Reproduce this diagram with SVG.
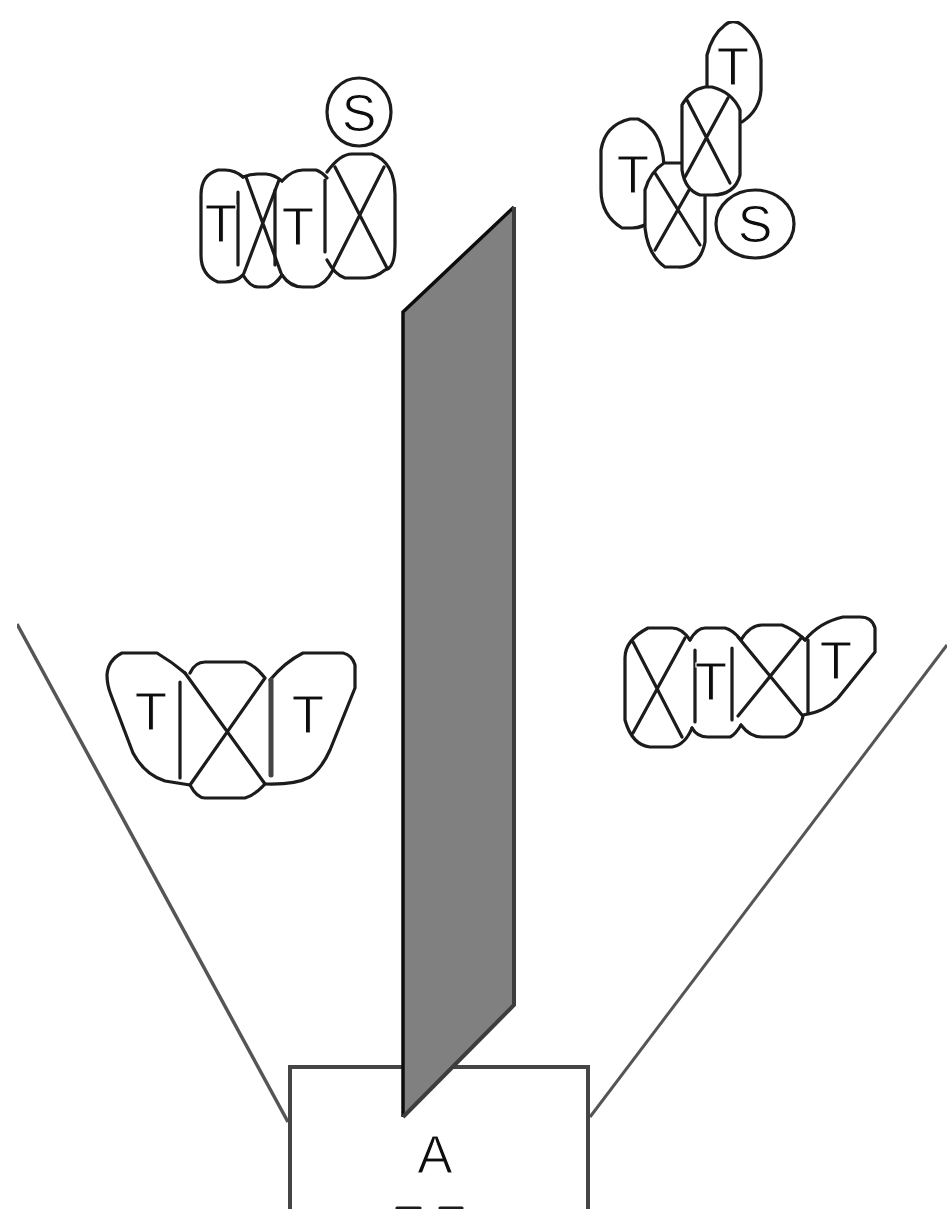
<svg xmlns="http://www.w3.org/2000/svg" width="947" height="1209" viewBox="0 0 947 1209">
<style>
.o{fill:none;stroke:#1a1a1a;stroke-width:3.2;stroke-linejoin:round;stroke-linecap:round}
.w{fill:#fff;stroke:#1a1a1a;stroke-width:3.2;stroke-linejoin:round;stroke-linecap:round}
.g{fill:none;stroke:#444;stroke-width:4}
.t{font-family:"Liberation Sans",Arial,sans-serif;fill:#111;stroke:#fff;stroke-width:1;text-anchor:middle}
</style>
<defs><filter id="soft" x="0" y="0" width="100%" height="100%"><feGaussianBlur stdDeviation="0.6"/></filter></defs>
<rect width="947" height="1209" fill="#fff"/>
<g filter="url(#soft)">
<g id="connectors">
<path class="g" style="stroke-width:3.5;stroke:#555" d="M17 624L288 1122"/>
<path class="g" style="stroke-width:3;stroke:#555" d="M947 645L590 1117"/>
</g>
<g id="node-a">
<path class="g" d="M290 1209V1067H588V1209"/>
<text class="t" x="435" y="1173" font-size="53">A</text>
<path class="o" d="M397 1208H420M440 1208H462"/>
</g>
<g id="panel">
<path d="M403 312L514 207V1005L403 1117Z" fill="#808080"/>
<path d="M403 1117V312L514 207" fill="none" stroke="#111" stroke-width="3.5"/>
<path d="M514 207V1005L403 1117" fill="none" stroke="#3c3c3c" stroke-width="4"/>
</g>
<g id="cluster-top-left">
<ellipse class="o" cx="359" cy="112" rx="32" ry="34"/>
<text class="t" x="359" y="131" font-size="52">S</text>
<path class="o" d="M243 177Q235 170 225 170H218Q201 175 201 195V255Q201 275 218 282H225Q236 282 243 275"/>
<path class="o" d="M238 192V265"/>
<text class="t" x="221" y="242" font-size="53">T</text>
<path class="o" d="M243 177Q250 174 258 174H266Q275 175 282 181M243 275Q250 287 258 287H268Q275 285 282 275"/>
<path class="o" d="M246 177L281 273M279 180L244 273"/>
<path class="o" d="M275 190V265"/>
<path class="o" d="M282 181Q292 170 303 170H316Q322 172 327 178M282 275Q290 287 303 287H314Q325 285 333 270"/>
<text class="t" x="298" y="245" font-size="53">T</text>
<path class="o" d="M325 180V252"/>
<path class="o" d="M327 172Q340 154 352 154H372Q395 162 395 195V245Q395 268 385 270Q375 278 365 278H345Q335 275 327 260"/>
<path class="o" d="M335 167L387 268M384 167L333 268"/>
</g>
<g id="cluster-top-right">
<path class="w" d="M707 92V55Q712 35 725 25Q733 18 742 25Q760 40 761 60V90Q760 110 742 122H725Q707 110 707 92Z"/>
<text class="t" x="733" y="85" font-size="53">T</text>
<path class="w" d="M601 150Q605 125 630 119H638Q662 130 664 165V195Q655 228 632 228H622Q601 215 601 190Z"/>
<text class="t" x="633" y="193" font-size="53">T</text>
<path class="w" d="M664 163H690Q705 175 705 190V242Q700 268 678 267H665Q648 255 645 228V190Q650 172 664 163Z"/>
<path class="o" d="M655 173L700 245M697 176L655 250"/>
<path class="w" d="M682 105Q690 90 705 87H712Q732 92 740 110V175Q735 195 712 195H700Q685 190 682 170Z"/>
<path class="o" d="M687 100L730 183M728 98L685 177"/>
<ellipse class="o" cx="755" cy="224" rx="39" ry="34"/>
<text class="t" x="755" y="242" font-size="52">S</text>
</g>
<g id="cluster-bottom-left">
<path class="o" d="M185 673Q172 662 157 653H122Q108 660 107 675Q107 685 111 695L133 753Q145 775 165 781L190 785"/>
<path class="o" d="M180 682V778"/>
<text class="t" x="151" y="730" font-size="53">T</text>
<path class="o" d="M190 673Q195 662 205 662H245Q255 665 265 678M190 785Q197 798 205 798H245Q255 795 265 784M185 673L265 784M265 678L190 785"/>
<path class="o" d="M265 784Q295 785 310 777Q322 768 330 750L355 688V665Q352 655 343 653H303Q285 662 270 680"/>
<path class="o" d="M271 680V775" style="stroke-width:5;stroke:#444"/>
<text class="t" x="308" y="733" font-size="53">T</text>
</g>
<g id="cluster-bottom-right">
<path class="o" d="M690 640Q682 628 672 628H648Q625 640 625 658V720Q632 745 650 747H672Q685 745 692 728"/>
<path class="o" d="M633 642L682 737M685 638L633 733"/>
<path class="o" d="M690 640Q697 628 705 628H725Q733 630 741 640M692 728Q697 737 708 737H730Q735 735 741 725"/>
<path class="o" d="M695 650V722M732 648V720"/>
<text class="t" x="711" y="700" font-size="53">T</text>
<path class="o" d="M741 640Q750 625 762 625H782Q795 630 805 640M741 725Q750 737 762 737H785Q800 732 803 716"/>
<path class="o" d="M738 637L802 715M802 637L738 716"/>
<path class="o" d="M803 715Q825 712 838 698L875 652V628Q872 617 860 617H843Q820 622 805 640M808 640V713"/>
<text class="t" x="836" y="679" font-size="53">T</text>
</g>
</g>
</svg>
